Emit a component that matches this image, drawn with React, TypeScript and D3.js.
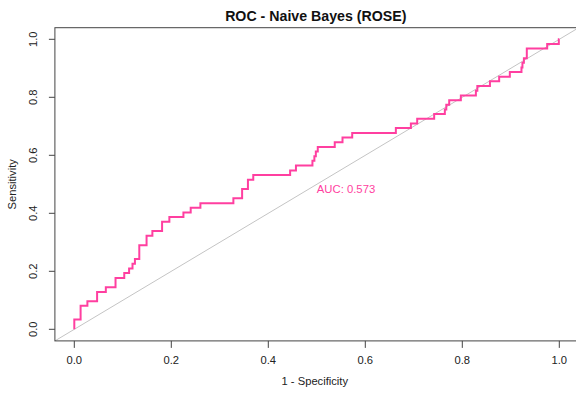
import React from "react";
import * as d3 from "d3";

// ROC curve vertices (1 - specificity, sensitivity)
const fpr = [
  0, 0, 0.013, 0.013, 0.027, 0.027, 0.047, 0.047, 0.065, 0.065, 0.085, 0.085,
  0.103, 0.103, 0.113, 0.113, 0.12, 0.12, 0.125, 0.125, 0.134, 0.134, 0.149, 0.149,
  0.161, 0.161, 0.181, 0.181, 0.196, 0.196, 0.225, 0.225, 0.24, 0.24, 0.26, 0.26,
  0.328, 0.328, 0.346, 0.346, 0.358, 0.358, 0.369, 0.369, 0.445, 0.445, 0.457, 0.457,
  0.491, 0.491, 0.495, 0.495, 0.498, 0.498, 0.502, 0.502, 0.537, 0.537, 0.553, 0.553,
  0.573, 0.573, 0.663, 0.663, 0.694, 0.694, 0.707, 0.707, 0.742, 0.742, 0.764, 0.764,
  0.767, 0.767, 0.773, 0.773, 0.797, 0.797, 0.828, 0.828, 0.831, 0.831, 0.857, 0.857,
  0.876, 0.876, 0.898, 0.898, 0.922, 0.922, 0.924, 0.924, 0.927, 0.927, 0.933, 0.933,
  0.975, 0.975, 0.999, 0.999, 1,
];
const tpr = [
  0, 0.034, 0.034, 0.081, 0.081, 0.097, 0.097, 0.129, 0.129, 0.145, 0.145, 0.177,
  0.177, 0.194, 0.194, 0.21, 0.21, 0.226, 0.226, 0.242, 0.242, 0.29, 0.29, 0.323,
  0.323, 0.339, 0.339, 0.371, 0.371, 0.387, 0.387, 0.403, 0.403, 0.419, 0.419, 0.435,
  0.435, 0.452, 0.452, 0.484, 0.484, 0.516, 0.516, 0.532, 0.532, 0.548, 0.548, 0.565,
  0.565, 0.581, 0.581, 0.597, 0.597, 0.613, 0.613, 0.629, 0.629, 0.645, 0.645, 0.661,
  0.661, 0.677, 0.677, 0.694, 0.694, 0.71, 0.71, 0.726, 0.726, 0.742, 0.742, 0.758,
  0.758, 0.774, 0.774, 0.79, 0.79, 0.806, 0.806, 0.823, 0.823, 0.839, 0.839, 0.855,
  0.855, 0.871, 0.871, 0.887, 0.887, 0.903, 0.903, 0.919, 0.919, 0.935, 0.935, 0.968,
  0.968, 0.984, 0.984, 1, 1,
];
const tickValues = [0, 0.2, 0.4, 0.6, 0.8, 1.0];
const aucValue = 0.573;
const titleText = "ROC - Naive Bayes (ROSE)";
const xLabel = "1 - Specificity";
const yLabel = "Sensitivity";

const W = 576;
const H = 394;
const FONT = "'Liberation Sans', Arial, Helvetica, sans-serif";
const PINK = "#ff3fa0";

export default function App() {
  const x = d3.scaleLinear().domain([0, 1]).range([74.3, 559.3]);
  const y = d3.scaleLinear().domain([0, 1]).range([329.3, 39.3]);
  const x0 = x(-0.04), x1 = x(1.04), y0 = y(-0.04), y1 = y(1.04);

  const pts: [number, number][] = fpr.map((f, i) => [f, tpr[i]]);
  const line = d3
    .line<[number, number]>()
    .x((d) => x(d[0]))
    .y((d) => y(d[1]));

  const fmt = d3.format(".1f");

  return (
    <svg
      width={W}
      height={H}
      style={{ position: "fixed", left: 0, top: 0, background: "#fff" }}
      fontFamily={FONT}
    >
      <rect x={0} y={0} width={W} height={H} fill="#fff" />
      <defs>
        <clipPath id="plotArea">
          <rect x={x0} y={y1} width={x1 - x0} height={y0 - y1} />
        </clipPath>
      </defs>

      {/* chance diagonal across the plot region */}
      <g clipPath="url(#plotArea)">
        <line
          x1={x(-0.1)}
          y1={y(-0.1)}
          x2={x(1.1)}
          y2={y(1.1)}
          stroke="#c4c4c4"
          strokeWidth={1}
        />
        <path d={line(pts) ?? ""} fill="none" stroke={PINK} strokeWidth={2} />
      </g>

      <text
        x={x(0.5)}
        y={y(0.5) + 9}
        fontSize={11.3}
        fill={PINK}
        textAnchor="start"
      >
        {`AUC: ${aucValue.toFixed(3)}`}
      </text>

      {/* plot box */}
      <rect
        x={x0}
        y={y1}
        width={x1 - x0}
        height={y0 - y1}
        fill="none"
        stroke="#444"
        strokeWidth={1}
      />

      {/* x axis */}
      {tickValues.map((t) => (
        <g key={"x" + t}>
          <line x1={x(t)} x2={x(t)} y1={y0} y2={y0 + 7} stroke="#444" />
          <text x={x(t)} y={364} fontSize={11.2} textAnchor="middle" fill="#222">
            {fmt(t)}
          </text>
        </g>
      ))}
      <text x={(x0 + x1) / 2 - 2} y={385} fontSize={11.2} textAnchor="middle" fill="#222">
        {xLabel}
      </text>

      {/* y axis */}
      {tickValues.map((t) => (
        <g key={"y" + t}>
          <line x1={x0 - 6} x2={x0} y1={y(t)} y2={y(t)} stroke="#444" />
          <text
            transform={`translate(37,${y(t)}) rotate(-90)`}
            fontSize={11.2}
            textAnchor="middle"
            fill="#222"
          >
            {fmt(t)}
          </text>
        </g>
      ))}
      <text
        transform={`translate(16,${(y0 + y1) / 2}) rotate(-90)`}
        fontSize={11.2}
        textAnchor="middle"
        fill="#222"
      >
        {yLabel}
      </text>

      {/* title */}
      <text
        x={(x0 + x1) / 2 - 1}
        y={20.5}
        fontSize={14.2}
        fontWeight="bold"
        textAnchor="middle"
        fill="#111"
      >
        {titleText}
      </text>
    </svg>
  );
}
